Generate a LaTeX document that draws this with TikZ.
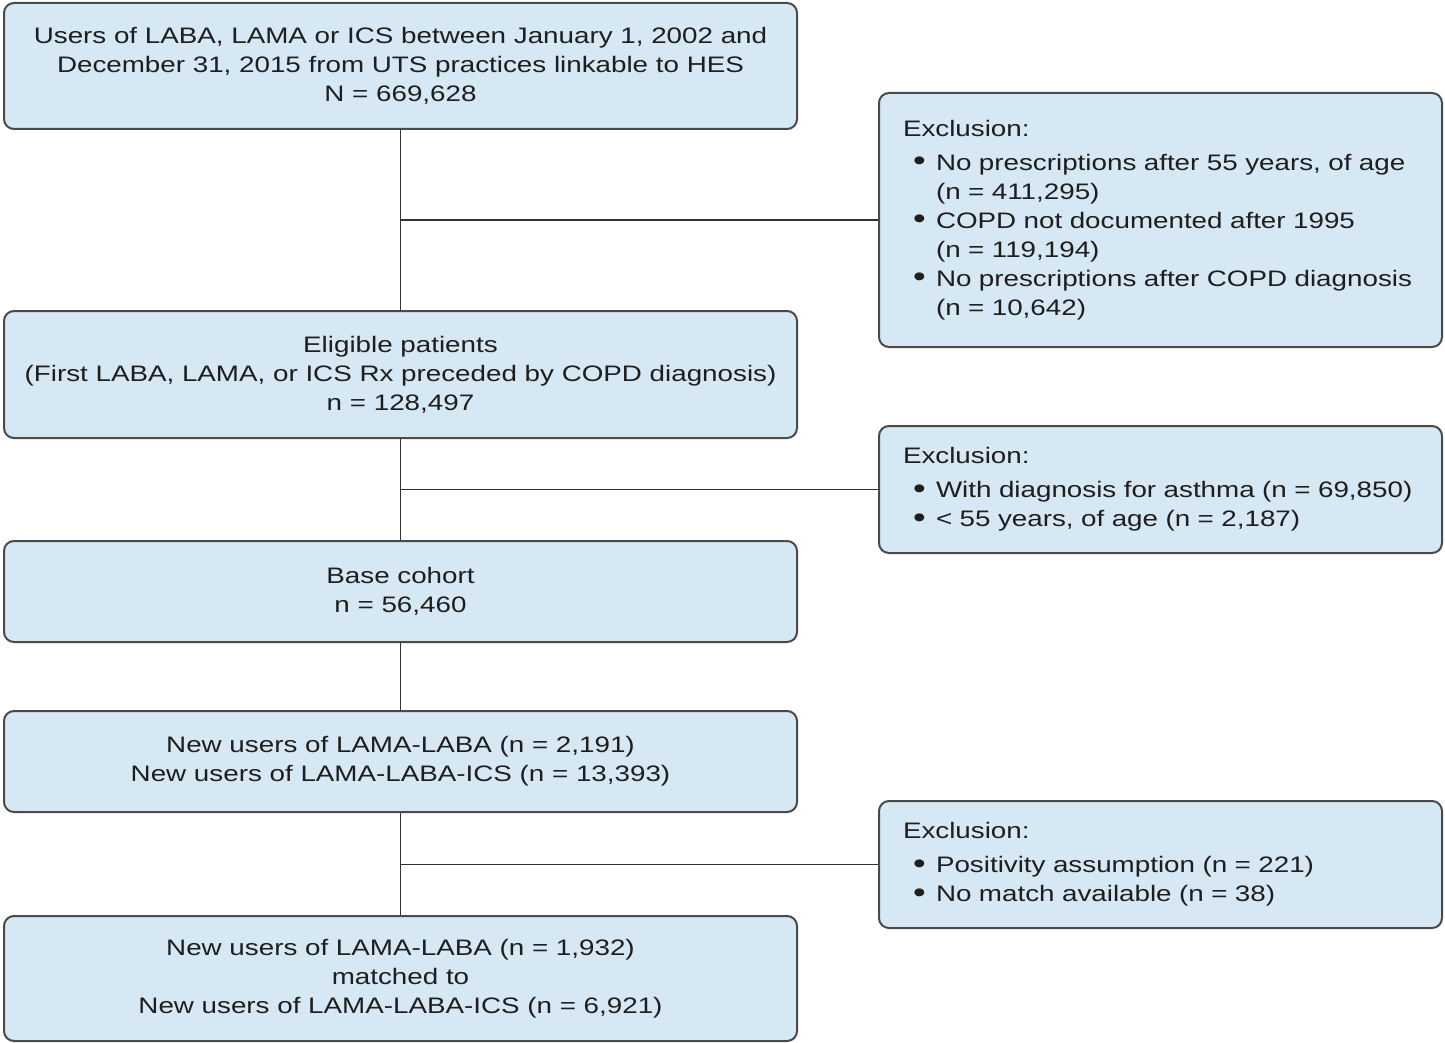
\documentclass[tikz,border=0pt]{standalone}
\usepackage{fontspec}
\setmainfont{Liberation Sans}[FakeStretch=1.24]
\definecolor{boxfill}{HTML}{D5E8F3}
\definecolor{bordercol}{HTML}{4A4A4A}
\definecolor{linecol}{HTML}{333333}
\definecolor{textcol}{HTML}{1E1E1E}
\newcommand\bitem{\makebox[16.5pt][l]{\hspace{5pt}\raisebox{-0.2pt}{\scalebox{1.3}{\textbullet}}}}
\newcommand\bcont{\makebox[16.5pt]{}}
\begin{document}
\begin{tikzpicture}[x=0.5pt,y=-0.5pt,
  font=\fontsize{11.2pt}{14.5pt}\selectfont,
  box/.style={draw=bordercol, line width=1pt, fill=boxfill, rounded corners=5pt,
    inner sep=0pt, align=center, text=textcol, minimum width=396.5pt},
  exbox/.style={draw=bordercol, line width=1pt, fill=boxfill, rounded corners=5pt,
    inner sep=0pt, align=left, text=textcol, minimum width=281.5pt, text width=257.5pt},
  conn/.style={draw=linecol, line width=0.8pt}]
\useasboundingbox (0,0) rectangle (1445,1043);

\node[box, minimum height=63pt] (b1) at (400.5,66)
  {Users of LABA, LAMA or ICS between January 1, 2002 and\\
   December 31, 2015 from UTS practices linkable to HES\\
   N = 669,628};
\node[exbox, minimum height=127pt] (e1) at (1160.5,220)
  {Exclusion:\\[2.5pt]
   \bitem No prescriptions after 55 years, of age\\
   \bcont (n = 411,295)\\
   \bitem COPD not documented after 1995\\
   \bcont (n = 119,194)\\
   \bitem No prescriptions after COPD diagnosis\\
   \bcont (n = 10,642)};
\node[box, minimum height=63.5pt] (b2) at (400.5,374.5)
  {Eligible patients\\
   (First LABA, LAMA, or ICS Rx preceded by COPD diagnosis)\\
   n = 128,497};
\node[exbox, minimum height=63.5pt] (e2) at (1160.5,489.5)
  {Exclusion:\\[2.5pt]
   \bitem With diagnosis for asthma (n = 69,850)\\
   \bitem < 55 years, of age (n = 2,187)};
\node[box, minimum height=50.5pt] (b3) at (400.5,591.5)
  {Base cohort\\ n = 56,460};
\node[box, minimum height=50.5pt] (b4) at (400.5,761.5)
  {New users of LAMA-LABA (n = 2,191)\\
   New users of LAMA-LABA-ICS (n = 13,393)};
\node[exbox, minimum height=63.5pt] (e3) at (1160.5,864.5)
  {Exclusion:\\[2.5pt]
   \bitem Positivity assumption (n = 221)\\
   \bitem No match available (n = 38)};
\node[box, minimum height=62.5pt] (b5) at (400.5,978.5)
  {New users of LAMA-LABA (n = 1,932)\\
   matched to\\
   New users of LAMA-LABA-ICS (n = 6,921)};

\draw[conn] (b1.south) -- (b2.north);
\draw[conn] (b2.south) -- (b3.north);
\draw[conn] (b3.south) -- (b4.north);
\draw[conn] (b4.south) -- (b5.north);
\draw[conn] (b1.south |- e1.west) -- (e1.west);
\draw[conn] (b2.south |- e2.west) -- (e2.west);
\draw[conn] (b4.south |- e3.west) -- (e3.west);
\end{tikzpicture}
\end{document}
